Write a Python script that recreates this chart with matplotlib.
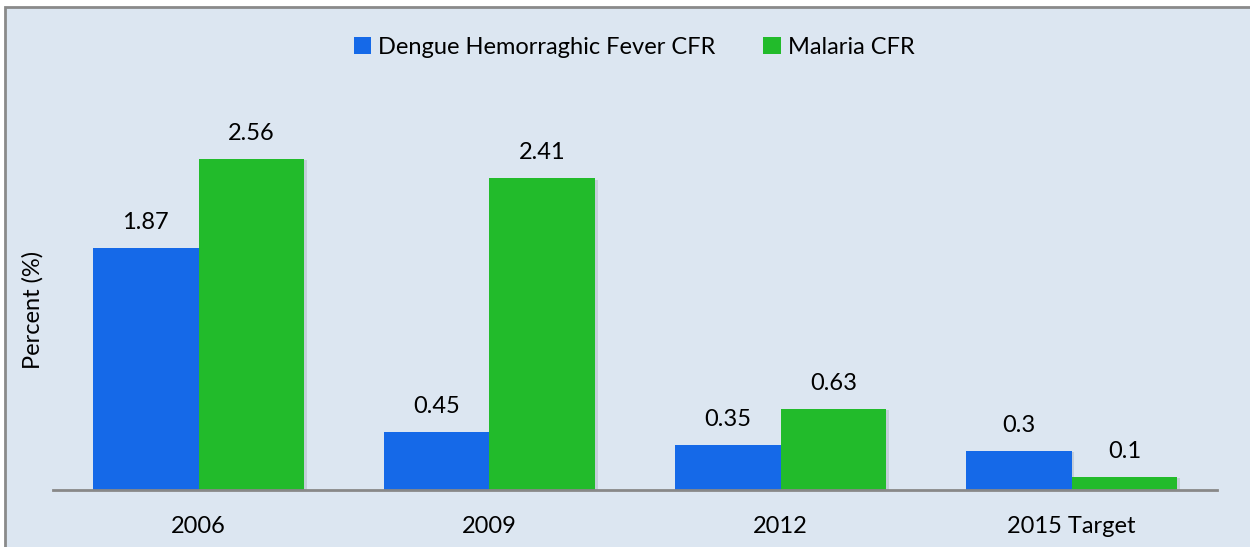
import numpy as np
import matplotlib
matplotlib.use("Agg")
import matplotlib.pyplot as plt
from matplotlib.patches import Rectangle

categories = ["2006", "2009", "2012", "2015 Target"]
dengue = [1.87, 0.45, 0.35, 0.3]
malaria = [2.56, 2.41, 0.63, 0.1]
series_names = ["Dengue Hemorraghic Fever CFR", "Malaria CFR"]

plt.rcParams['font.family'] = ['Lato', 'DejaVu Sans']

bg = '#dce6f1'
blue = '#1569e8'
green = '#22bb2b'

fig = plt.figure(figsize=(12.5, 5.47), dpi=100)
fig.patch.set_facecolor('white')
# chart area box with grey border on top/left
fig.patches.append(Rectangle((5 / 1250, -0.05), 1.1, 1 - 7 / 547 + 0.05,
                             transform=fig.transFigure, facecolor=bg,
                             edgecolor='#8a8a8a', linewidth=2, zorder=-10))

ax = fig.add_axes([53 / 1250, 1 - 490 / 547, 1164 / 1250, 388 / 547])
ax.set_facecolor('none')

x = np.arange(len(categories))
w = 0.364
b1 = ax.bar(x - w / 2, dengue, w, color=blue, label=series_names[0], zorder=3)
b2 = ax.bar(x + w / 2, malaria, w, color=green, label=series_names[1], zorder=3)

# faint shadow behind bars
for bars in (b1, b2):
    for r in bars:
        ax.add_patch(Rectangle((r.get_x() + 0.008, 0), r.get_width(), r.get_height() - 0.01,
                               facecolor='#9aa3ad', alpha=0.35, edgecolor='none', zorder=2))

for bars, vals in ((b1, dengue), (b2, malaria)):
    for r, v in zip(bars, vals):
        ax.text(r.get_x() + r.get_width() / 2, v + 0.115, f"{v:g}",
                ha='center', va='bottom', fontsize=17)

ax.set_xlim(-0.5, 3.5)
ax.set_ylim(0, 3.0)
ax.set_xticks(x)
ax.set_xticklabels(categories, fontsize=17)
ax.tick_params(axis='x', length=0, pad=19)
ax.set_yticks([])
for s in ['top', 'right', 'left']:
    ax.spines[s].set_visible(False)
ax.spines['bottom'].set_color('#888888')
ax.spines['bottom'].set_linewidth(2)
ax.spines['bottom'].set_zorder(4)

fig.text(33 / 1250, 1 - 310 / 547, "Percent (%)", rotation=90,
         ha='center', va='center', fontsize=17)

fig.legend(handles=[b1, b2], labels=series_names, loc='center',
           bbox_to_anchor=(634 / 1250, 1 - 47 / 547), ncol=2, frameon=False,
           fontsize=17, handlelength=0.75, handleheight=0.75, handletextpad=0.3,
           columnspacing=2.0)

fig.savefig("out.png", dpi=100, facecolor=fig.get_facecolor())
